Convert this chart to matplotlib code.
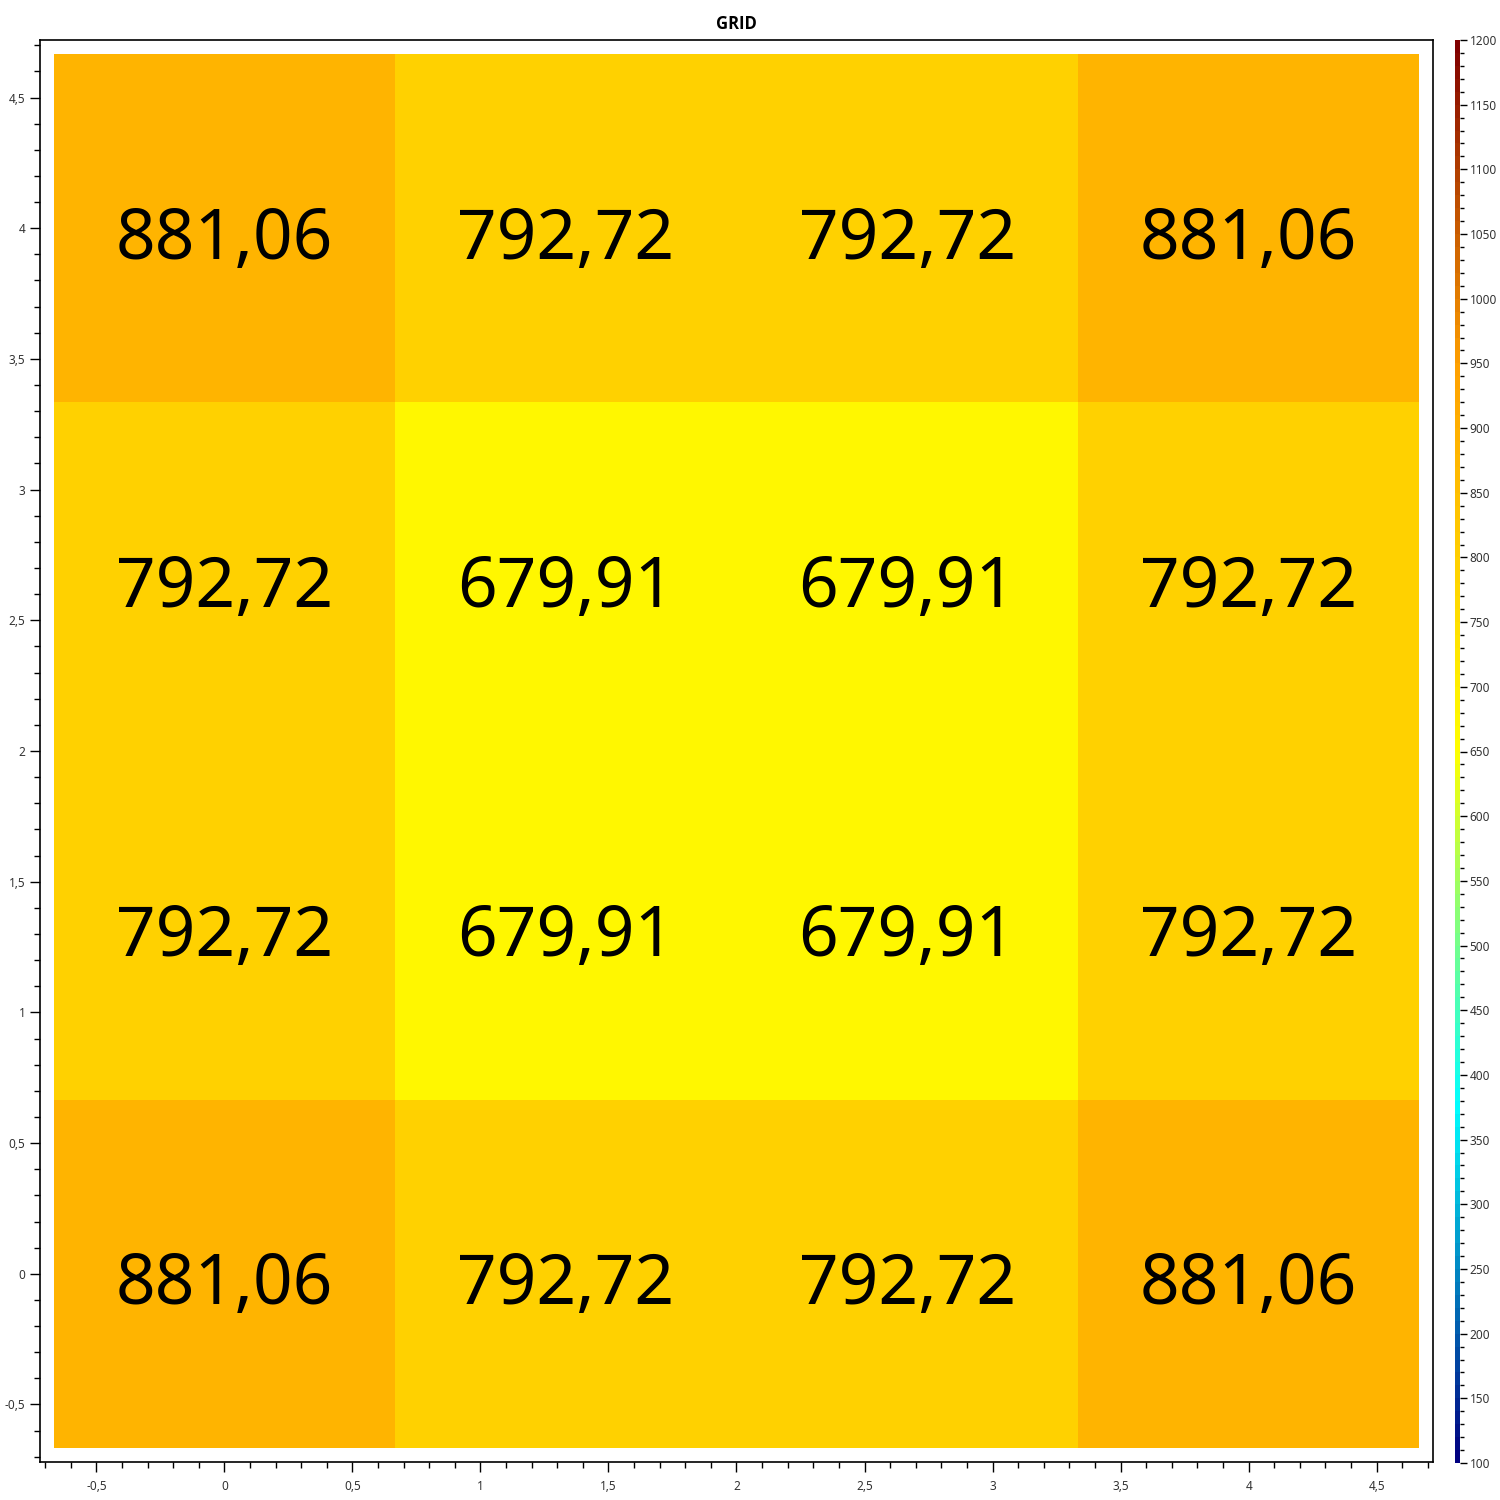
import numpy as np
import matplotlib
matplotlib.use("Agg")
import matplotlib.pyplot as plt
from matplotlib.colors import LinearSegmentedColormap, Normalize
from matplotlib.ticker import MultipleLocator, FuncFormatter
from matplotlib.transforms import offset_copy

plt.rcParams['font.family'] = ['Noto Sans', 'DejaVu Sans']

# cell centres (x and y) and cell values, rows from bottom to top
x_centers = [0.0, 4 / 3, 8 / 3, 4.0]
y_centers = [0.0, 4 / 3, 8 / 3, 4.0]
values = np.array([
    [881.06, 792.72, 792.72, 881.06],
    [792.72, 679.91, 679.91, 792.72],
    [792.72, 679.91, 679.91, 792.72],
    [881.06, 792.72, 792.72, 881.06],
])
vmin, vmax = 100, 1200
title = "GRID"

# colour anchors of the scale
anchor_vals = [100, 375, 650, 950, 1200]
anchor_cols = ['#000080', '#00FFFF', '#FFFF00', '#FFA000', '#800000']


def edges(c):
    c = np.asarray(c)
    half = (c[1] - c[0]) / 2
    return np.concatenate([c - half, [c[-1] + half]])


def comma(v, pos):
    s = ('%.2f' % v).rstrip('0').rstrip('.')
    if s == '-0':
        s = '0'
    return s.replace('.', ',')


pos = [(v - vmin) / (vmax - vmin) for v in anchor_vals]
cmap = LinearSegmentedColormap.from_list('scale', list(zip(pos, anchor_cols)), N=110)
norm = Normalize(vmin, vmax)

fig = plt.figure(figsize=(15, 15), dpi=100)
ax = fig.add_axes([40 / 1500, 38 / 1500, 1393 / 1500, 1422 / 1500])
cax = fig.add_axes([1455 / 1500, 37 / 1500, 5 / 1500, 1423 / 1500])

xe = edges(x_centers)
ye = edges(y_centers)
mesh = ax.pcolormesh(xe, ye, values, cmap=cmap, norm=norm, shading='flat')

# nudge the labels a little below the cell centre, like the original
label_tr = offset_copy(ax.transData, fig=fig, x=0, y=-3, units='points')
for i, yc in enumerate(y_centers):
    for j, xc in enumerate(x_centers):
        ax.text(xc, yc, comma(values[i, j], None), ha='center', va='center_baseline',
                fontsize=50, color='black', transform=label_tr)

padx = (xe[-1] - xe[0]) * 0.01
pady = (ye[-1] - ye[0]) * 0.01
ax.set_xlim(xe[0] - padx, xe[-1] + padx)
ax.set_ylim(ye[0] - pady, ye[-1] + pady)

for a in (ax.xaxis, ax.yaxis):
    a.set_major_locator(MultipleLocator(0.5))
    a.set_minor_locator(MultipleLocator(0.1))
    a.set_major_formatter(FuncFormatter(comma))
ax.tick_params(which='major', length=7, width=1, labelsize=8.5, colors='black')
ax.tick_params(which='minor', length=4, width=1)
ax.tick_params(axis='x', pad=6)
for t in ax.get_xticklabels() + ax.get_yticklabels():
    t.set_color('#333333')
for s in ax.spines.values():
    s.set_linewidth(1.2)

ax.set_title(title, fontsize=12, fontweight='bold', pad=8,
             family=['Open Sans', 'DejaVu Sans'])

cb = fig.colorbar(mesh, cax=cax)
cb.outline.set_visible(False)
cb.set_ticks(np.arange(vmin, vmax + 1, 50))
cax.yaxis.set_minor_locator(MultipleLocator(10))
cax.tick_params(which='major', length=5, width=1, labelsize=8.5, pad=2)
cax.tick_params(which='minor', length=3, width=1)
for t in cax.get_yticklabels():
    t.set_color('#333333')

fig.savefig('out.png', dpi=100)
